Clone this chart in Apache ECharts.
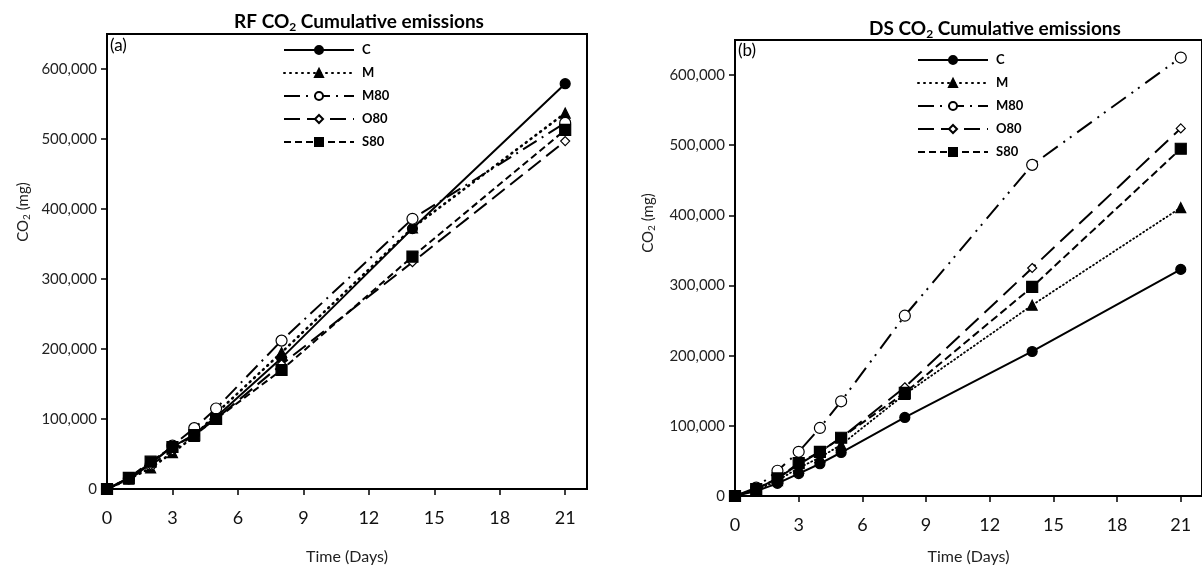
<!DOCTYPE html>
<html>
<head>
<meta charset="utf-8">
<script src="https://cdn.jsdelivr.net/npm/echarts@6/dist/echarts.min.js"></script>
<style>
  html, body { margin: 0; padding: 0; background: #fff; }
  #chart { width: 1202px; height: 570px; }
</style>
</head>
<body>
<div id="chart"></div>
<script>
const days = [0, 1, 2, 3, 4, 5, 8, 14, 21]
const xTicks = [0, 3, 6, 9, 12, 15, 18, 21]
const yTicks = [0, 100000, 200000, 300000, 400000, 500000, 600000]
const seriesNames = ['C', 'M', 'M80', 'O80', 'S80']

// RF panel (a)
const rfC = [0, 16000, 37000, 60000, 78000, 103000, 187000, 372000, 579000]
const rfM = [0, 14000, 30000, 52000, 75000, 108000, 195000, 373000, 537000]
const rfM80 = [0, 15000, 35000, 62000, 87000, 115000, 212000, 386000, 523000]
const rfO80 = [0, 14000, 34000, 55000, 78000, 100000, 178000, 324000, 497000]
const rfS80 = [0, 16000, 39000, 60000, 77000, 100000, 170000, 332000, 513000]

// DS panel (b)
const dsC = [0, 7000, 18000, 32000, 46000, 62000, 112000, 206000, 323000]
const dsM = [0, 8000, 22000, 40000, 55000, 73000, 145000, 272000, 411000]
const dsM80 = [0, 12000, 36000, 63000, 97000, 135000, 257000, 472000, 625000]
const dsO80 = [0, 10000, 25000, 45000, 63000, 83000, 155000, 325000, 524000]
const dsS80 = [0, 10000, 25000, 47000, 63000, 83000, 147000, 298000, 495000]

const FONT = 'Lato, "Open Sans", sans-serif'

// line look per panel: [RF, DS]
const styles = {
    C: { symbol: 'circle', size: 10, fill: '#000', dash: ['solid', 'solid'], width: [2, 2] },
    M: { symbol: 'triangle', size: 10, fill: '#000', dash: [[1, 5], [1, 3]], width: [2.6, 1.8] },
    M80: { symbol: 'circle', size: 11, fill: '#fff', dash: [[16, 6, 2, 6], [18, 7, 2, 6, 2, 7]], width: [2, 2] },
    O80: { symbol: 'diamond', size: 9, fill: '#fff', dash: [[16, 7], [18, 8]], width: [2, 2] },
    S80: { symbol: 'rect', size: 11, fill: '#000', dash: [[7, 4], [8, 4]], width: [2, 2] },
}

function mkSeries(name, vals, idx) {
    const s = styles[name]
    return {
        name: name,
        type: 'line',
        xAxisIndex: idx,
        yAxisIndex: idx,
        data: days.map((d, i) => [d, vals[i]]),
        symbol: s.symbol,
        symbolSize: s.size,
        showAllSymbol: true,
        lineStyle: { color: '#000', width: s.width[idx], type: s.dash[idx], cap: name === 'M' ? 'round' : 'butt' },
        itemStyle: { color: s.fill, borderColor: '#000', borderWidth: 1.2 },
        emphasis: { disabled: true },
        z: 3,
    }
}

function xAxisOf(idx, gap) {
    return {
        type: 'value', gridIndex: idx, min: 0, max: 22, interval: 3,
        name: 'Time (Days)', nameLocation: 'middle', nameGap: gap,
        nameTextStyle: { fontFamily: FONT, fontSize: 16, color: '#222' },
        axisLine: { show: true, onZero: false, lineStyle: { color: '#000', width: 2 } },
        axisTick: { show: true, inside: false, length: 6, customValues: xTicks, lineStyle: { color: '#000', width: 1.5 } },
        axisLabel: { customValues: xTicks, fontFamily: FONT, fontSize: 18, color: '#111', margin: 20 },
        splitLine: { show: false },
    }
}

function yAxisOf(idx) {
    return {
        type: 'value', gridIndex: idx, min: 0, max: 650000, interval: 100000,
        axisLine: { show: true, lineStyle: { color: '#000', width: 2 } },
        axisTick: { show: true, length: 6, customValues: yTicks, lineStyle: { color: '#000', width: 1.5 } },
        axisLabel: {
            customValues: yTicks, fontFamily: FONT, fontSize: 15, color: '#222', margin: 10,
            formatter: (v) => v.toLocaleString('en-US'),
        },
        splitLine: { show: false },
    }
}

function legendOf(left, top) {
    return {
        orient: 'vertical', left: left, top: top,
        data: seriesNames,
        itemWidth: 70, itemHeight: 10, itemGap: 9,
        selectedMode: false,
        textStyle: { fontFamily: FONT, fontSize: 13, lineHeight: 14, fontWeight: 'bold', color: '#000', padding: [0, 0, 0, 3] },
    }
}

const subRich = {
    sub: { fontFamily: FONT, fontSize: 12, fontWeight: 'bold', color: '#000', padding: [10, 0, 0, 0] },
}

const chart = echarts.init(document.getElementById('chart'), null, { renderer: 'canvas' })

chart.setOption({
    animation: false,
    backgroundColor: '#fff',
    title: [
        {
            text: 'RF CO{sub|2} Cumulative emissions', left: 354, top: 6, textAlign: 'center',
            textStyle: { fontFamily: FONT, fontSize: 19, fontWeight: 'bold', color: '#000', rich: subRich },
        },
        {
            text: 'DS CO{sub|2} Cumulative emissions', left: 990, top: 13, textAlign: 'center',
            textStyle: { fontFamily: FONT, fontSize: 19, fontWeight: 'bold', color: '#000', rich: subRich },
        },
    ],
    legend: [legendOf(278, 38), legendOf(912, 48)],
    grid: [
        { left: 107, top: 34, width: 480, height: 456, show: true, borderColor: '#000', borderWidth: 2, containLabel: false },
        { left: 735, top: 40, width: 480, height: 457, show: true, borderColor: '#000', borderWidth: 2, containLabel: false },
    ],
    xAxis: [xAxisOf(0, 60), xAxisOf(1, 53)],
    yAxis: [yAxisOf(0), yAxisOf(1)],
    graphic: [
        { type: 'text', left: 110, top: 37, style: { text: '(a)', fontFamily: FONT, fontSize: 17, fill: '#000' } },
        { type: 'text', left: 738, top: 42, style: { text: '(b)', fontFamily: FONT, fontSize: 17, fill: '#000' } },
        {
            type: 'text', x: 23, y: 212, rotation: Math.PI / 2,
            style: {
                text: 'CO{s|2} (mg)', fontFamily: FONT, fontSize: 15, fill: '#222',
                align: 'center', verticalAlign: 'middle',
                rich: { s: { fontFamily: FONT, fontSize: 10, fill: '#222', padding: [7, 0, 0, 0] } },
            },
        },
        {
            type: 'text', x: 648, y: 223, rotation: Math.PI / 2,
            style: {
                text: 'CO{s|2} (mg)', fontFamily: FONT, fontSize: 15, fill: '#222',
                align: 'center', verticalAlign: 'middle',
                rich: { s: { fontFamily: FONT, fontSize: 10, fill: '#222', padding: [7, 0, 0, 0] } },
            },
        },
    ],
    series: [
        mkSeries('C', rfC, 0),
        mkSeries('M', rfM, 0),
        mkSeries('M80', rfM80, 0),
        mkSeries('O80', rfO80, 0),
        mkSeries('S80', rfS80, 0),
        mkSeries('C', dsC, 1),
        mkSeries('M', dsM, 1),
        mkSeries('M80', dsM80, 1),
        mkSeries('O80', dsO80, 1),
        mkSeries('S80', dsS80, 1),
    ],
})

window.addEventListener('resize', () => chart.resize())
</script>
</body>
</html>
